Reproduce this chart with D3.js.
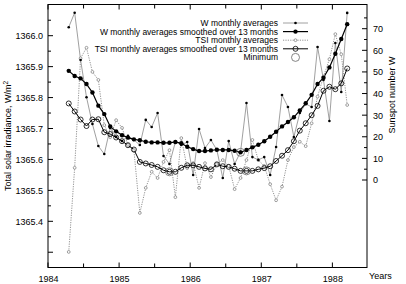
<!DOCTYPE html>
<html lang="en">
<head>
<meta charset="UTF-8">
<title>Solar irradiance and sunspot number</title>
<script src="https://d3js.org/d3.v7.min.js"></script>
<style>
    body { margin: 0; background: #fff; }
    svg text { font-family: "Liberation Sans", Arial, sans-serif; fill: #000; }
</style>
</head>
<body>
<svg id="chart" width="406" height="284"></svg>
<script>
    // monthly points, April 1984 .. March 1988
    const startYear = 1984, startMonth = 3;  // 0-based month index (April)

    // sunspot number, monthly averages
    const wMonthly = [70.7, 77.4, 55.5, 38.3, 25.9, 15.7, 12.0, 24.1, 19.9, 18.0, 20.4, 18.5,
        16.2, 27.8, 24.5, 31.0, 11.1, 7.4, 17.6, 16.2, 17.6, 2.3, 23.6, 14.8,
        18.5, 13.9, 0.9, 18.0, 7.4, 13.0, 35.6, 10.6, 9.3, 10.6, 2.3, 15.3,
        39.3, 33.8, 19.9, 31.0, 35.2, 33.8, 61.5, 46.3, 27.3, 63.4, 40.7, 77.3];

    // sunspot number smoothed over 13 months
    const wSmooth = [50.5, 48.1, 47.0, 44.4, 40.5, 34.4, 30.5, 24.8, 22.5, 20.7, 19.6, 18.8,
        18.4, 17.7, 17.4, 17.4, 17.2, 17.2, 17.6, 17.0, 15.4, 14.3, 13.4, 13.4,
        13.7, 14.0, 13.9, 13.9, 13.5, 12.8, 13.9, 15.1, 16.3, 17.9, 20.0, 22.3,
        24.8, 26.8, 29.0, 32.2, 35.5, 39.4, 44.4, 47.3, 52.1, 58.4, 65.2, 72.1];

    // total solar irradiance, monthly averages (W/m2)
    const tsiMonthly = [1365.301, 1365.573, 1365.927, 1365.961, 1365.883, 1365.857, 1365.711, 1365.672,
        1365.727, 1365.702, 1365.647, 1365.630, 1365.427, 1365.508, 1365.560, 1365.540,
        1365.592, 1365.630, 1365.478, 1365.669, 1365.572, 1365.588, 1365.508, 1365.588,
        1365.543, 1365.585, 1365.598, 1365.579, 1365.504, 1365.540, 1365.598, 1365.663,
        1365.598, 1365.579, 1365.520, 1365.468, 1365.512, 1365.598, 1365.640, 1365.657,
        1365.643, 1365.717, 1365.803, 1365.868, 1365.924, 1366.005, 1365.940, 1365.776];

    // total solar irradiance smoothed over 13 months
    const tsiSmooth = [1365.781, 1365.755, 1365.729, 1365.708, 1365.729, 1365.730, 1365.688, 1365.682,
        1365.671, 1365.659, 1365.646, 1365.632, 1365.592, 1365.587, 1365.582, 1365.576,
        1365.565, 1365.560, 1365.560, 1365.573, 1365.581, 1365.581, 1365.576, 1365.571,
        1365.568, 1365.584, 1365.578, 1365.576, 1365.570, 1365.563, 1365.563, 1365.563,
        1365.568, 1365.572, 1365.578, 1365.595, 1365.612, 1365.630, 1365.659, 1365.693,
        1365.717, 1365.743, 1365.773, 1365.822, 1365.835, 1365.827, 1365.846, 1365.894];

    // months (index) where the smoothed curves reach their minimum
    const wMinIdx = [29];
    const tsiMinIdx = [17, 30];

    const yearTicks = [1984, 1985, 1986, 1987, 1988];
    const tsiTicks = [1365.4, 1365.5, 1365.6, 1365.7, 1365.8, 1365.9, 1366.0];
    const wTicks = [0, 10, 20, 30, 40, 50, 60, 70];

    const legendLabels = ["W monthly averages", "W monthly averages smoothed over 13 months",
        "TSI monthly averages", "TSI monthly averages smoothed over 13 months", "Minimum"];

    const times = wMonthly.map((d, i) => startYear + (startMonth + i + 0.5) / 12);

    const pLeft = 48, pRight = 367, pTop = 4.5, pBottom = 267.5;
    const svg = d3.select("#chart");

    const x = d3.scaleLinear().domain([1984, 1988.487]).range([pLeft, pRight]);
    // left axis anchored on two labelled ticks, extends past them
    const yL = d3.scaleLinear().domain([1365.4, 1366.0]).range([221.3, 35.7]);
    const yR = d3.scaleLinear().domain([0, 70]).range([180, 28.7]);

    // frame
    svg.append("rect")
        .attr("x", pLeft).attr("y", pTop)
        .attr("width", pRight - pLeft).attr("height", pBottom - pTop)
        .attr("fill", "none").attr("stroke", "#000").attr("stroke-width", 1);

    // bottom axis
    const halfYears = d3.range(1984, 1988.5, 0.5);
    const xAxis = svg.append("g").attr("transform", `translate(0,${pBottom})`)
        .call(d3.axisBottom(x).tickValues(yearTicks).tickFormat(d3.format("d")).tickSize(0).tickPadding(8));
    xAxis.select(".domain").remove();
    xAxis.selectAll("text").style("font-size", "9px");
    halfYears.forEach(t => {
        const len = Number.isInteger(t) ? 5 : 4;
        svg.append("line").attr("x1", x(t)).attr("x2", x(t)).attr("y1", pBottom).attr("y2", pBottom - len).attr("stroke", "#000");
        svg.append("line").attr("x1", x(t)).attr("x2", x(t)).attr("y1", pTop).attr("y2", pTop + len).attr("stroke", "#000");
    });

    // left axis
    const yAxisL = svg.append("g").attr("transform", `translate(${pLeft},0)`)
        .call(d3.axisLeft(yL).tickValues(tsiTicks).tickFormat(d3.format(".1f")).tickSize(0).tickPadding(5));
    yAxisL.select(".domain").remove();
    yAxisL.selectAll("text").style("font-size", "9px");
    d3.range(1365.3, 1366.1, 0.05).forEach(v => {
        const major = Math.abs(v * 10 - Math.round(v * 10)) < 1e-6;
        svg.append("line").attr("x1", pLeft).attr("x2", pLeft + (major ? 5 : 3))
            .attr("y1", yL(v)).attr("y2", yL(v)).attr("stroke", "#000");
    });

    // right axis
    const yAxisR = svg.append("g").attr("transform", `translate(${pRight},0)`)
        .call(d3.axisRight(yR).tickValues(wTicks).tickSize(0).tickPadding(6));
    yAxisR.select(".domain").remove();
    yAxisR.selectAll("text").style("font-size", "9px");
    d3.range(0, 80, 5).forEach(v => {
        svg.append("line").attr("x1", pRight).attr("x2", pRight - (v % 10 === 0 ? 5 : 3))
            .attr("y1", yR(v)).attr("y2", yR(v)).attr("stroke", "#000");
    });

    // axis titles
    const tl = svg.append("text")
        .attr("transform", `translate(11,${(pTop + pBottom) / 2}) rotate(-90)`)
        .attr("text-anchor", "middle").style("font-size", "9px");
    tl.append("tspan").text("Total solar irradiance, W/m");
    tl.append("tspan").attr("dy", -3).style("font-size", "6.5px").text("2");

    svg.append("text")
        .attr("transform", `translate(395,95) rotate(-90)`)
        .attr("text-anchor", "middle").style("font-size", "9px")
        .text("Sunspot number W");

    svg.append("text").attr("x", 369).attr("y", 279).style("font-size", "9px").text("Years");

    // series
    const lineW = d3.line().x((d, i) => x(times[i])).y(d => yR(d));
    const lineT = d3.line().x((d, i) => x(times[i])).y(d => yL(d));

    svg.append("path").datum(tsiMonthly).attr("d", lineT)
        .attr("fill", "none").attr("stroke", "#777").attr("stroke-width", 0.8).attr("stroke-dasharray", "1.2,1.2");
    svg.append("path").datum(wMonthly).attr("d", lineW)
        .attr("fill", "none").attr("stroke", "#888").attr("stroke-width", 0.8);
    svg.append("path").datum(tsiSmooth).attr("d", lineT)
        .attr("fill", "none").attr("stroke", "#000").attr("stroke-width", 1);
    svg.append("path").datum(wSmooth).attr("d", lineW)
        .attr("fill", "none").attr("stroke", "#000").attr("stroke-width", 1.2);

    svg.selectAll(".tm").data(tsiMonthly).enter().append("circle")
        .attr("cx", (d, i) => x(times[i])).attr("cy", d => yL(d)).attr("r", 1.4)
        .attr("fill", "#fff").attr("stroke", "#777").attr("stroke-width", 0.7);
    svg.selectAll(".wm").data(wMonthly).enter().append("circle")
        .attr("cx", (d, i) => x(times[i])).attr("cy", d => yR(d)).attr("r", 1.3)
        .attr("fill", "#000");
    svg.selectAll(".ts").data(tsiSmooth).enter().append("circle")
        .attr("cx", (d, i) => x(times[i])).attr("cy", d => yL(d)).attr("r", 2.5)
        .attr("fill", "none").attr("stroke", "#000").attr("stroke-width", 0.8);
    svg.selectAll(".ws").data(wSmooth).enter().append("circle")
        .attr("cx", (d, i) => x(times[i])).attr("cy", d => yR(d)).attr("r", 2.2)
        .attr("fill", "#000");

    // minima
    wMinIdx.forEach(i => svg.append("circle").attr("cx", x(times[i])).attr("cy", yR(wSmooth[i])).attr("r", 4)
        .attr("fill", "none").attr("stroke", "#666").attr("stroke-width", 0.8));
    tsiMinIdx.forEach(i => svg.append("circle").attr("cx", x(times[i])).attr("cy", yL(tsiSmooth[i])).attr("r", 4)
        .attr("fill", "none").attr("stroke", "#666").attr("stroke-width", 0.8));

    // legend
    const lg = svg.append("g");
    const rowY = d => 23 + d * 8.6;
    legendLabels.forEach((lab, k) => {
        lg.append("text").attr("x", 278).attr("y", rowY(k) + 3).attr("text-anchor", "end")
            .style("font-size", "8.5px").text(lab);
    });
    const sx1 = 283, sx2 = 308, sm = 295.5;
    lg.append("line").attr("x1", sx1).attr("x2", sx2).attr("y1", rowY(0)).attr("y2", rowY(0)).attr("stroke", "#888").attr("stroke-width", 0.8);
    lg.append("circle").attr("cx", sm).attr("cy", rowY(0)).attr("r", 1.3).attr("fill", "#000");
    lg.append("line").attr("x1", sx1).attr("x2", sx2).attr("y1", rowY(1)).attr("y2", rowY(1)).attr("stroke", "#000").attr("stroke-width", 1.2);
    lg.append("circle").attr("cx", sm).attr("cy", rowY(1)).attr("r", 2.2).attr("fill", "#000");
    lg.append("line").attr("x1", sx1).attr("x2", sx2).attr("y1", rowY(2)).attr("y2", rowY(2)).attr("stroke", "#777").attr("stroke-width", 0.8).attr("stroke-dasharray", "1.2,1.2");
    lg.append("circle").attr("cx", sm).attr("cy", rowY(2)).attr("r", 1.4).attr("fill", "#fff").attr("stroke", "#777").attr("stroke-width", 0.7);
    lg.append("line").attr("x1", sx1).attr("x2", sx2).attr("y1", rowY(3)).attr("y2", rowY(3)).attr("stroke", "#000").attr("stroke-width", 1);
    lg.append("circle").attr("cx", sm).attr("cy", rowY(3)).attr("r", 2.5).attr("fill", "none").attr("stroke", "#000").attr("stroke-width", 0.8);
    lg.append("circle").attr("cx", sm).attr("cy", rowY(4)).attr("r", 4).attr("fill", "none").attr("stroke", "#666").attr("stroke-width", 0.8);
</script>
</body>
</html>
